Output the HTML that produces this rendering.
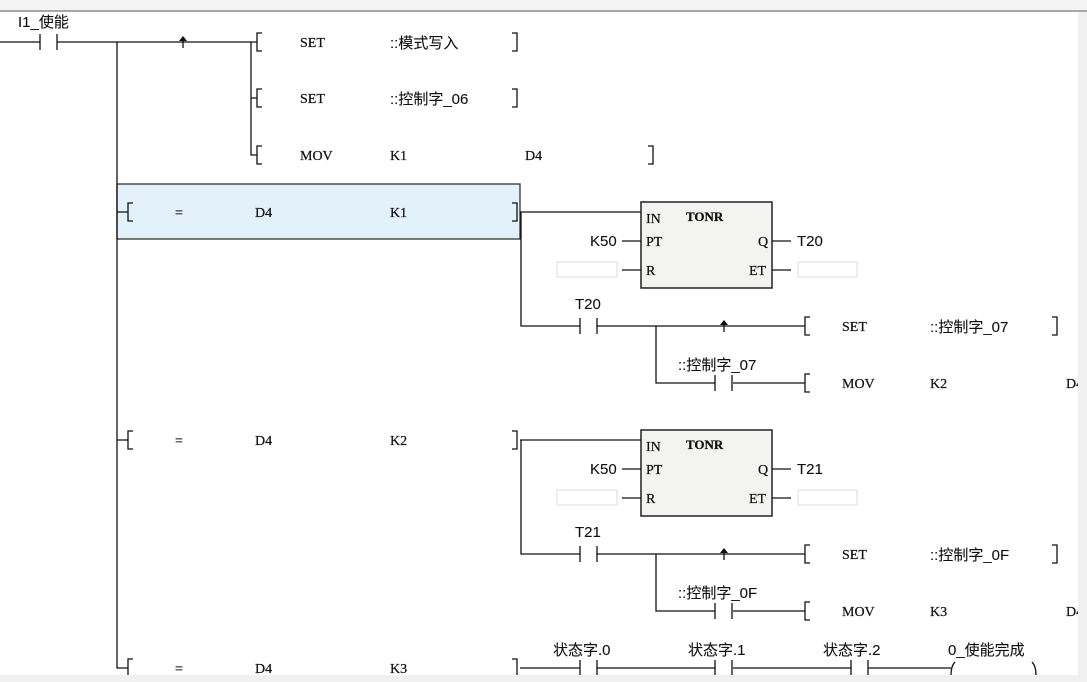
<!DOCTYPE html>
<html><head><meta charset="utf-8"><style>
html,body{margin:0;padding:0;background:#fff;}
svg{display:block}
text{font-family:"Liberation Serif","Noto Sans CJK SC",serif;font-size:14px;fill:#111;stroke:#111;stroke-width:0.25}
.c{font-family:"Liberation Sans","Noto Sans CJK SC",sans-serif;font-size:15px;stroke-width:0.1}
</style></head><body>
<svg width="1087" height="682" viewBox="0 0 1087 682" xmlns="http://www.w3.org/2000/svg">
<defs>
<g id="lb"><path d="M5,-9 H0 V9 H5" fill="none" stroke="#111" stroke-width="1.3"/></g>
<g id="rb"><path d="M-5,-9 H0 V9 H-5" fill="none" stroke="#111" stroke-width="1.3"/></g>
<g id="ct"><path d="M0,-8 V8 M17,-8 V8" stroke="#111" stroke-width="1.3"/></g>
<g id="ar"><path d="M0,-1 V6" stroke="#111" stroke-width="1.3"/><path d="M-4,-1 L0,-6 L4,-1 Z" fill="#111"/></g>
<g id="blk">
 <path d="M520,0 H641 M521,0 V114 H580 M597,114 H805 M656,114 V171 H715 M733,171 H805" fill="none" stroke="#111" stroke-width="1.3"/>
 <use href="#ct" x="580" y="114"/><use href="#ct" x="715" y="171"/>
 <use href="#ar" x="724" y="114"/>
 <use href="#lb" x="805" y="114"/><use href="#lb" x="805" y="171"/>
 <rect x="641" y="-10" width="131" height="86" fill="#f3f3f1" stroke="#222" stroke-width="1.5"/>
 <path d="M622,29 H641 M622,58 H641 M772,29 H791 M772,58 H791" stroke="#111" stroke-width="1.3"/>
 <rect x="557" y="50" width="60" height="15" fill="#fff" stroke="#ddd"/>
 <rect x="798" y="50" width="59" height="15" fill="#fff" stroke="#ddd"/>
 <text x="646" y="11">IN</text><text x="686" y="9" style="font-weight:bold;font-size:13px">TONR</text>
 <text x="646" y="34">PT</text><text x="646" y="63">R</text>
 <text x="758" y="34">Q</text><text x="749" y="63">ET</text>
 <text x="590" y="34" class="c">K50</text>
 <text x="842" y="119">SET</text><text x="842" y="176">MOV</text>
</g>
</defs>
<rect x="0" y="0" width="1087" height="10" fill="#f3f3f3"/>
<line x1="0" y1="11" x2="1087" y2="11" stroke="#8a8a8a" stroke-width="1.5"/>

<rect x="117" y="184" width="403" height="55" fill="#e3f1fb" stroke="#333" stroke-width="1.3"/>

<path d="M0,42 H40 M57,42 H257 M117,42 V668 H128 M251,42 V155 H257 M251,98 H257 M117,212 H128 M117,440 H128" fill="none" stroke="#111" stroke-width="1.3"/>
<use href="#ct" x="40" y="42"/>
<use href="#ar" x="183" y="42"/>
<text x="18" y="27" class="c">I1_使能</text>
<use href="#lb" x="257" y="42"/><use href="#lb" x="257" y="98"/><use href="#lb" x="257" y="155"/>
<text x="300" y="47">SET</text><text x="390" y="48" class="c">::模式写入</text><use href="#rb" x="517" y="42"/>
<text x="300" y="103">SET</text><text x="390" y="104" class="c">::控制字_06</text><use href="#rb" x="517" y="98"/>
<text x="300" y="160">MOV</text><text x="390" y="160">K1</text><text x="525" y="160">D4</text><use href="#rb" x="653" y="155"/>

<use href="#lb" x="128" y="212"/><text x="175" y="217">=</text><text x="255" y="217">D4</text><text x="390" y="217">K1</text><use href="#rb" x="517" y="212"/>
<use href="#lb" x="128" y="440"/><text x="175" y="445">=</text><text x="255" y="445">D4</text><text x="390" y="445">K2</text><use href="#rb" x="517" y="440"/>
<use href="#lb" x="128" y="668"/><text x="175" y="673">=</text><text x="255" y="673">D4</text><text x="390" y="673">K3</text><use href="#rb" x="517" y="668"/>

<g transform="translate(0,212)"><use href="#blk"/></g>
<text x="797" y="246" class="c">T20</text>
<text x="575" y="309" class="c">T20</text>
<text x="930" y="332" class="c">::控制字_07</text><use href="#rb" x="1057" y="326"/>
<text x="678" y="370" class="c">::控制字_07</text>
<text x="930" y="388">K2</text><text x="1066" y="388">D4</text>

<g transform="translate(0,440)"><use href="#blk"/></g>
<text x="797" y="474" class="c">T21</text>
<text x="575" y="537" class="c">T21</text>
<text x="930" y="560" class="c">::控制字_0F</text><use href="#rb" x="1057" y="554"/>
<text x="678" y="598" class="c">::控制字_0F</text>
<text x="930" y="616">K3</text><text x="1066" y="616">D4</text>

<path d="M520,668 H580 M597,668 H715 M733,668 H851 M868,668 H951" fill="none" stroke="#111" stroke-width="1.3"/>
<use href="#ct" x="580" y="668"/><use href="#ct" x="715" y="668"/><use href="#ct" x="851" y="668"/>
<path d="M955,662 Q951,666 951,675 M1032,662 Q1036,666 1036,675" fill="none" stroke="#111" stroke-width="1.3"/>
<text x="553" y="655" class="c">状态字.0</text>
<text x="688" y="655" class="c">状态字.1</text>
<text x="823" y="655" class="c">状态字.2</text>
<text x="948" y="655" class="c">0_使能完成</text>
<rect x="0" y="675" width="1087" height="7" fill="#f0f0f0"/>
<rect x="1078" y="12" width="9" height="670" fill="#f0f0f0"/>
</svg>
</body></html>
